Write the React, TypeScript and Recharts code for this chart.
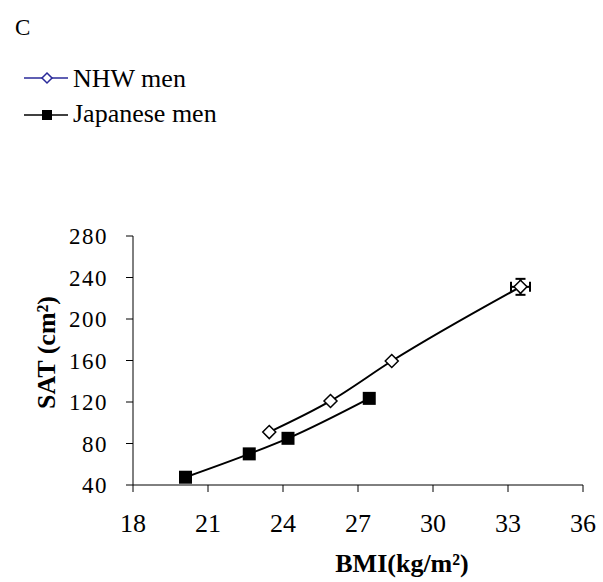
import React from "react";
import {
  ComposedChart,
  Line,
  Scatter,
  XAxis,
  YAxis,
  ErrorBar,
  Label,
} from "recharts";

// NHW men
const nhwBmi = [23.45, 25.9, 28.35, 33.5];
const nhwSat = [91, 121, 159.5, 231];
const nhwErrBmi = [0, 0, 0, 0.38];
const nhwErrSat = [0, 0, 0, 7.7];

// Japanese men
const jpBmi = [20.1, 22.65, 24.2, 27.45];
const jpSat = [47.5, 70, 85, 123.5];

const xTicks = [18, 21, 24, 27, 30, 33, 36];
const yTicks = [40, 80, 120, 160, 200, 240, 280];

const nhwData = nhwBmi.map((b, i) => ({
  bmi: b,
  sat: nhwSat[i],
  ex: nhwErrBmi[i],
  ey: nhwErrSat[i],
}));
const jpData = jpBmi.map((b, i) => ({ bmi: b, sat: jpSat[i] }));

const FONT = '"Liberation Serif", "Times New Roman", serif';

const Diamond = (props: any) => {
  const { cx, cy } = props;
  const r = 6.5;
  return (
    <path
      d={`M${cx},${cy - r}L${cx + r},${cy}L${cx},${cy + r}L${cx - r},${cy}Z`}
      fill="#fff"
      stroke="#000"
      strokeWidth={1.5}
    />
  );
};

const Square = (props: any) => {
  const { cx, cy } = props;
  const s = 13;
  return <rect x={cx - s / 2} y={cy - s / 2} width={s} height={s} fill="#000" />;
};

const XTitle = (props: any) => {
  const vb = props.viewBox;
  return (
    <text
      x={vb.x + vb.width / 2 + 44}
      y={vb.y + 87}
      textAnchor="middle"
      fontFamily={FONT}
      fontWeight="bold"
      fontSize={26}
      fill="#000"
    >
      BMI(kg/m²)
    </text>
  );
};

const YTitle = (props: any) => {
  const vb = props.viewBox;
  const x = 55;
  const y = vb.y + vb.height / 2 - 8;
  return (
    <text
      x={x}
      y={y}
      transform={`rotate(-90, ${x}, ${y})`}
      textAnchor="middle"
      fontFamily={FONT}
      fontWeight="bold"
      fontSize={26}
      fill="#000"
    >
      SAT (cm²)
    </text>
  );
};

export default function App() {
  return (
    <div style={{ position: "absolute", left: 0, top: 0, width: 603, height: 582, background: "#fff" }}>
      <ComposedChart
        width={603}
        height={582}
        margin={{ top: 236, right: 20, bottom: 0, left: 0 }}
      >
        <XAxis
          type="number"
          dataKey="bmi"
          domain={[18, 36]}
          ticks={xTicks}
          height={97}
          tickSize={7}
          tickMargin={22}
          stroke="#000"
          tick={{ fill: "#000", fontFamily: FONT, fontSize: 26 }}
          allowDuplicatedCategory={false}
        >
          <Label content={XTitle} />
        </XAxis>
        <YAxis
          type="number"
          dataKey="sat"
          domain={[40, 280]}
          ticks={yTicks}
          width={133}
          tickSize={7}
          tickMargin={18}
          stroke="#000"
          tick={{ fill: "#000", fontFamily: FONT, fontSize: 23, letterSpacing: 1.5 }}
        >
          <Label content={YTitle} />
        </YAxis>
        <Line
          data={nhwData}
          dataKey="sat"
          type="monotone"
          stroke="#000"
          strokeWidth={2}
          dot={false}
          isAnimationActive={false}
        />
        <Line
          data={jpData}
          dataKey="sat"
          type="monotone"
          stroke="#000"
          strokeWidth={2}
          dot={false}
          isAnimationActive={false}
        />
        <Scatter
          data={nhwData}
          dataKey="sat"
          shape={Diamond}
          isAnimationActive={false}
        >
          <ErrorBar dataKey="ex" direction="x" width={5} stroke="#000" strokeWidth={2} />
          <ErrorBar dataKey="ey" direction="y" width={5} stroke="#000" strokeWidth={2} />
        </Scatter>
        <Scatter
          data={jpData}
          dataKey="sat"
          shape={Square}
          isAnimationActive={false}
        />
      </ComposedChart>
      <svg
        width={603}
        height={160}
        style={{ position: "absolute", left: 0, top: 0, pointerEvents: "none" }}
      >
        <text x={15} y={35} fontFamily={FONT} fontSize={23} fill="#000">
          C
        </text>
        <line x1={24} y1={78} x2={68} y2={78} stroke="#2a2a9a" strokeWidth={1.5} />
        <path d="M47,73L52,78L47,83L42,78Z" fill="#fff" stroke="#2a2a9a" strokeWidth={1.5} />
        <text x={73} y={87} fontFamily={FONT} fontSize={26} fill="#000">
          NHW men
        </text>
        <line x1={24} y1={115} x2={68} y2={115} stroke="#000" strokeWidth={1.5} />
        <rect x={42} y={110} width={10} height={10} fill="#000" />
        <text x={73} y={122} fontFamily={FONT} fontSize={26} fill="#000">
          Japanese men
        </text>
      </svg>
    </div>
  );
}
